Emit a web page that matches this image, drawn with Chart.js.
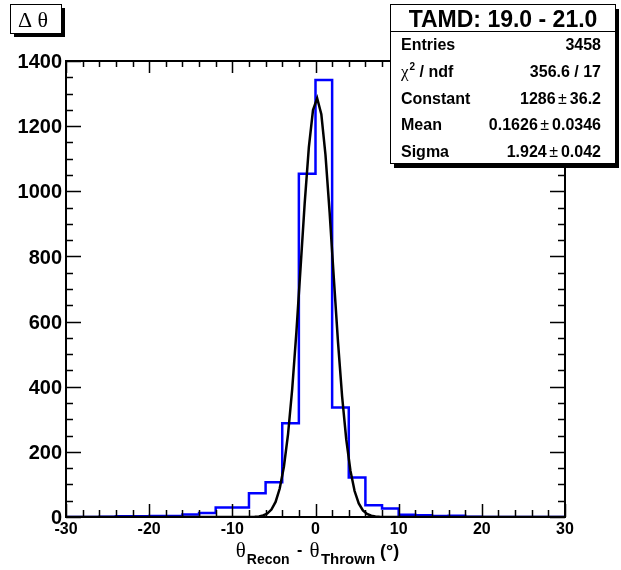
<!DOCTYPE html>
<html><head><meta charset="utf-8">
<script src="https://cdn.jsdelivr.net/npm/chart.js@4.4.1/dist/chart.umd.min.js"></script>
<style>html,body{margin:0;padding:0;background:#fff;} canvas{display:block;}</style>
</head><body>
<canvas id="c" width="621" height="570"></canvas>
<script>
// ---- data ----
const binLowEdges = [-30,-28,-26,-24,-22,-20,-18,-16,-14,-12,-10,-8,-6,-4,-2,0,2,4,6,8,10,12,14,16,18,20,22,24,26,28];
const binCounts   = [0,0,1,2,2,3,3,8,12,29,29,73,107,288,1054,1342,336,121,36,26,7,5,3,4,1,0,0,0,0,0];
const histUpperEdge = 30;
const fitX = [-30,-8.3,-7.8,-7.3,-6.8,-6.3,-5.8,-5.3,-4.8,-4.3,-3.8,-3.3,-2.8,-2.3,-1.8,-1.3,-0.8,-0.3,0.2,0.7,1.2,1.7,2.2,2.7,3.2,3.7,4.2,4.7,5.2,5.7,6.2,6.7,7.2,7.7,8.2,8.7,30];
const fitY = [0,0.08,0.25,0.7,1.8,4.6,10.6,22.8,46.2,87.3,154.2,254.6,393.0,566.9,764.3,963.4,1134.7,1249.4,1285.8,1236.8,1112.0,934.6,734.1,539.0,369.9,237.3,142.3,79.7,41.8,20.4,9.4,4.0,1.6,0.6,0.2,0.07,0];
const xTickValues = [-30,-20,-10,0,10,20,30];
const xTickLabels = ["-30","-20","-10","0","10","20","30"];
const yTickValues = [0,200,400,600,800,1000,1200,1400];
const yTickLabels = ["0","200","400","600","800","1000","1200","1400"];
const histTitle = "\u0394 \u03b8";
const statsTitle = "TAMD: 19.0 - 21.0";
const statsEntries = "3458";
const statsChi2 = "356.6 / 17";
const fitConstant = ["1286","36.2"];
const fitMean = ["0.1626","0.0346"];
const fitSigma = ["1.924","0.042"];

const SANS = '"Liberation Sans", Arial, Helvetica, sans-serif';
const SERIF = '"Liberation Serif", "Times New Roman", serif';
const B = s => 'bold ' + s + 'px ' + SANS;
const R = s => s + 'px ' + SANS;
const S = s => s + 'px ' + SERIF;

const histPoints = binLowEdges.map((e,i)=>({x:e, y:binCounts[i]}));
histPoints.push({x:histUpperEdge, y:binCounts[binCounts.length-1]});
const fitPoints = fitX.map((v,i)=>({x:v, y:fitY[i]}));

function runsWidth(ctx, runs){ let w=0; for(const r of runs){ ctx.font=r.font; w+=(r.gap||0)+ctx.measureText(r.t).width; } return w; }
function drawRuns(ctx, runs, x, y){ ctx.textAlign='left'; for(const r of runs){ ctx.font=r.font; x+=(r.gap||0); ctx.fillText(r.t, x, y+(r.dy||0)); x+=ctx.measureText(r.t).width; } }

const framePlugin = {
  id:'rootFrame',
  afterDatasetsDraw(chart){
    const {ctx, chartArea:a, scales:{x, y}} = chart;
    ctx.save();
    ctx.strokeStyle='#000';
    ctx.lineWidth=1.5;
    ctx.beginPath();
    for(let v=-30; v<=30; v+=2){
      const px = Math.round(x.getPixelForValue(v))+0.5;
      const major = v%10===0;
      ctx.moveTo(px, a.bottom); ctx.lineTo(px, a.bottom-(major?13:7));
      ctx.moveTo(px, a.top); ctx.lineTo(px, a.top+(major?12:6));
    }
    for(let v=0; v<=1400; v+=50){
      const py = Math.round(y.getPixelForValue(v))+0.5;
      const major = v%200===0;
      ctx.moveTo(a.left, py); ctx.lineTo(a.left+(major?15:7), py);
      ctx.moveTo(a.right, py); ctx.lineTo(a.right-(major?15:7), py);
    }
    ctx.stroke();
    ctx.lineWidth=2;
    ctx.strokeRect(a.left, a.top, a.right-a.left, a.bottom-a.top);
    // tick labels
    ctx.fillStyle='#000';
    ctx.font=B(16); ctx.textAlign='center'; ctx.textBaseline='alphabetic';
    xTickValues.forEach((v,i)=>ctx.fillText(xTickLabels[i], x.getPixelForValue(v), a.bottom+16.5));
    ctx.font=B(20); ctx.textAlign='right';
    yTickValues.forEach((v,i)=>ctx.fillText(yTickLabels[i], a.left-4, y.getPixelForValue(v)+7.2));
    ctx.restore();
  },
  afterDraw(chart){
    const {ctx, chartArea:a} = chart;
    ctx.save();
    ctx.fillStyle='#000'; ctx.strokeStyle='#000'; ctx.textBaseline='alphabetic';
    // x axis title
    const title = [
      {t:'\u03b8', font:S(21)},
      {t:'Recon', font:B(14), dy:7.5, gap:1},
      {t:'-', font:B(16), dy:-2, gap:7.5},
      {t:'\u03b8', font:S(21), gap:7},
      {t:'Thrown', font:B(15), dy:7.5, gap:1.5},
      {t:'(\u00b0)', font:B(18), gap:5}
    ];
    const tw = runsWidth(ctx, title);
    drawRuns(ctx, title, 317.5 - tw/2, 556.5);

    // histogram title box
    ctx.fillRect(14, 8, 51, 29);
    ctx.fillStyle='#fff'; ctx.fillRect(10, 4, 52, 30);
    ctx.fillStyle='#000'; ctx.lineWidth=1;
    ctx.strokeRect(10.5, 4.5, 51, 29);
    ctx.font=S(22); ctx.textAlign='center';
    ctx.fillText(histTitle, 33, 26.5);

    // stats box
    const bx=390.5, by=4.5, bw=225, bh=159;
    ctx.fillRect(bx+3.5, by+4.5, bw, bh);
    ctx.fillStyle='#fff'; ctx.fillRect(bx, by, bw, bh);
    ctx.fillStyle='#000';
    ctx.strokeRect(bx, by, bw, bh);
    ctx.beginPath(); ctx.moveTo(bx, 31.5); ctx.lineTo(bx+bw, 31.5); ctx.stroke();
    ctx.font=B(23); ctx.textAlign='center';
    ctx.fillText(statsTitle, 503, 26.5);
    ctx.textAlign='left';
    const lx=401, rx=601;
    const rowsY=[50, 77, 103.5, 130, 156.5];
    const leftRuns=[
      [{t:'Entries', font:B(16)}],
      [{t:'\u03c7', font:S(17)},{t:'2', font:B(10), dy:-7, gap:1},{t:' / ndf', font:B(16)}],
      [{t:'Constant', font:B(16)}],
      [{t:'Mean', font:B(16)}],
      [{t:'Sigma', font:B(16)}]
    ];
    const pm = (v)=>[{t:v[0], font:B(16)},{t:'\u00b1', font:R(16), gap:2.5},{t:v[1], font:B(16), gap:3}];
    const rightRuns=[
      [{t:statsEntries, font:B(16)}],
      [{t:statsChi2, font:B(16)}],
      pm(fitConstant), pm(fitMean), pm(fitSigma)
    ];
    rowsY.forEach((yy,i)=>{
      drawRuns(ctx, leftRuns[i], lx, yy);
      drawRuns(ctx, rightRuns[i], rx-runsWidth(ctx, rightRuns[i]), yy);
    });
    ctx.restore();
  }
};

new Chart(document.getElementById('c'), {
  type:'line',
  data:{datasets:[
    {label:'fit', data:fitPoints, borderColor:'#000', borderWidth:2.5, pointRadius:0, tension:0, fill:false, order:0},
    {label:'hist', data:histPoints, borderColor:'#0000ff', borderWidth:2.5, pointRadius:0, stepped:'before', fill:false, order:1}
  ]},
  options:{
    responsive:false, animation:false, devicePixelRatio:1,
    layout:{padding:{left:66, right:56, top:61, bottom:53}},
    scales:{
      x:{type:'linear', min:-30, max:30, display:false},
      y:{type:'linear', min:0, max:1400, display:false}
    },
    plugins:{legend:{display:false}, tooltip:{enabled:false}}
  },
  plugins:[framePlugin]
});
</script>
</body></html>
